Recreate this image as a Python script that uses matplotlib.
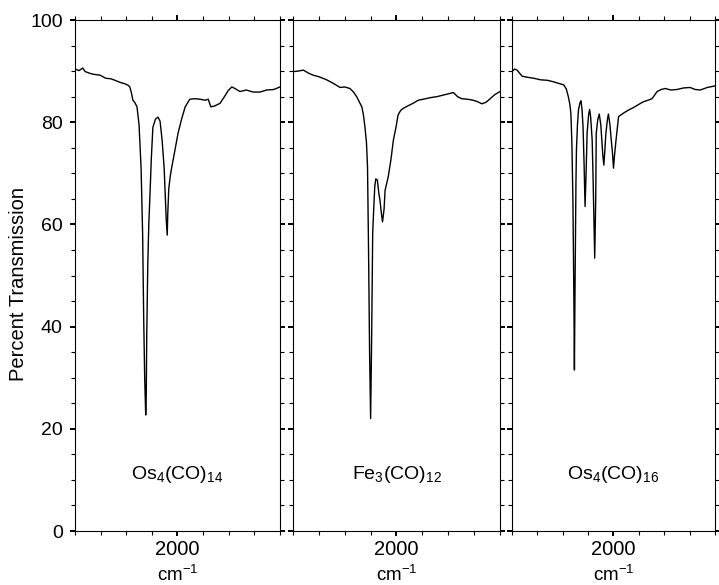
import matplotlib.pyplot as plt
import matplotlib.ticker as mticker

plt.rcParams.update({
    "font.family": ["Liberation Sans", "DejaVu Sans"],
    "mathtext.default": "regular",
    "axes.linewidth": 0.8,
})

# ── data (wavenumber cm-1, % transmission) ───────────────────────────────────
os14_wn = [2200, 2192, 2185, 2180, 2172, 2165, 2151, 2140, 2130, 2122, 2112, 2102,
           2096, 2093, 2090, 2087, 2083, 2079, 2075, 2071, 2068, 2066, 2064, 2062,
           2061, 2060, 2058, 2056, 2054, 2051, 2048, 2043, 2038, 2034, 2030, 2026,
           2024, 2022, 2020, 2019, 2017, 2014, 2011, 2005, 1999, 1992, 1985, 1976,
           1966, 1956, 1946, 1940, 1935, 1927, 1917, 1909, 1901, 1894, 1888, 1878,
           1866, 1852, 1839, 1826, 1812, 1800]
os14_t = [90.4, 90.1, 90.6, 89.9, 89.6, 89.4, 89.2, 88.6, 88.5, 88.2, 87.8, 87.5,
          87.2, 86.9, 85.8, 84.3, 83.8, 83.0, 79.5, 71.0, 58.0, 42.0, 30.0, 22.7,
          26.0, 38.0, 52.0, 60.0, 65.0, 73.0, 79.0, 80.6, 81.0, 80.2, 76.5, 71.0,
          66.0, 61.0, 57.9, 62.0, 67.0, 69.5, 71.3, 74.5, 77.8, 80.6, 83.0, 84.5,
          84.6, 84.5, 84.3, 84.5, 83.0, 83.2, 83.7, 84.9, 86.2, 86.9, 86.6, 86.0,
          86.3, 85.9, 85.9, 86.3, 86.4, 86.9]

fe_wn = [2200, 2190, 2180, 2170, 2161, 2150, 2135, 2122, 2109, 2100, 2090, 2083,
         2077, 2072, 2067, 2064, 2061, 2058, 2056, 2054, 2052, 2050, 2048, 2046,
         2044, 2042, 2040, 2037, 2034, 2032, 2029, 2027, 2024, 2022, 2019, 2016,
         2011, 2006, 2001, 1997, 1992, 1987, 1978, 1968, 1958, 1948, 1935, 1922,
         1906, 1890, 1882, 1874, 1863, 1852, 1843, 1835, 1827, 1819, 1810, 1800]
fe_t = [89.9, 90.0, 90.2, 89.6, 89.2, 88.9, 88.3, 87.6, 86.8, 86.9, 86.6, 85.9,
        85.0, 84.0, 83.0, 81.5, 79.1, 76.0, 71.3, 55.0, 35.0, 22.0, 38.0, 58.3,
        63.0, 67.4, 68.9, 68.7, 66.0, 64.8, 62.0, 60.5, 63.0, 66.7, 68.0, 69.3,
        72.5, 76.5, 79.0, 81.4, 82.3, 82.7, 83.2, 83.7, 84.3, 84.5, 84.8, 85.0,
        85.4, 85.8, 85.0, 84.6, 84.5, 84.3, 84.0, 83.6, 83.9, 84.6, 85.4, 86.0]

os16_wn = [2200, 2195, 2190, 2180, 2170, 2157, 2144, 2130, 2118, 2108, 2098, 2093,
           2089, 2086, 2084, 2082, 2080, 2078, 2077, 2076, 2074, 2073, 2071, 2069,
           2066, 2064, 2062, 2060, 2058, 2056, 2054, 2052, 2049, 2047, 2045, 2042,
           2040, 2037, 2035, 2034, 2031, 2028, 2025, 2023, 2021, 2019, 2017, 2015,
           2012, 2010, 2007, 2005, 2002, 2000, 1998, 1995, 1990, 1980, 1970, 1960,
           1950, 1941, 1932, 1924, 1914, 1906, 1898, 1887, 1875, 1862, 1849, 1839,
           1829, 1815, 1800]
os16_t = [89.9, 90.4, 90.2, 89.0, 88.8, 88.6, 88.3, 88.2, 87.9, 87.6, 87.3, 86.5,
          85.0, 83.5, 81.8, 76.0, 65.0, 45.0, 31.5, 45.0, 68.0, 74.6, 79.5, 82.4,
          83.8, 84.2, 82.5, 79.1, 72.0, 63.5, 70.0, 77.8, 81.5, 82.5, 81.0, 76.5,
          68.0, 53.4, 65.0, 77.8, 80.5, 81.6, 79.5, 76.5, 73.5, 71.6, 74.5, 77.8,
          80.5, 81.6, 79.5, 77.2, 74.0, 71.0, 73.5, 76.5, 81.1, 81.8, 82.4, 82.9,
          83.5, 84.0, 84.3, 84.6, 86.0, 86.4, 86.6, 86.3, 86.4, 86.7, 86.8, 86.4,
          86.3, 86.8, 87.1]

spectra = [
    (os14_wn, os14_t, r"Os$_4$(CO)$_{14}$"),
    (fe_wn, fe_t, r"Fe$_3$(CO)$_{12}$"),
    (os16_wn, os16_t, r"Os$_4$(CO)$_{16}$"),
]

# ── figure ────────────────────────────────────────────────────────────────────
fig = plt.figure(figsize=(7.19, 5.85), dpi=100)
lefts = [0.1043, 0.4075, 0.7121]
widths = [0.2851, 0.2879, 0.2823]
bottom, height = 0.0923, 0.8735

for i, (wn, t, name) in enumerate(spectra):
    ax = fig.add_axes([lefts[i], bottom, widths[i], height])
    ax.plot(wn, t, color="black", linewidth=1.0)
    ax.set_xlim(2200, 1800)
    ax.set_ylim(0, 100)

    ax.xaxis.set_major_locator(mticker.FixedLocator([2000]))
    ax.xaxis.set_minor_locator(mticker.MultipleLocator(50))
    ax.yaxis.set_major_locator(mticker.MultipleLocator(20))
    ax.yaxis.set_minor_locator(mticker.MultipleLocator(5))
    ax.tick_params(which="both", direction="out", top=True, right=True, width=0.8)
    ax.tick_params(which="major", length=3.8, width=1.4)
    ax.tick_params(which="minor", length=3)
    ax.tick_params(axis="x", labelsize=14.5, pad=3)
    ax.tick_params(axis="y", labelsize=14, pad=5)
    if i > 0:
        ax.tick_params(labelleft=False)

    ax.set_xlabel("cm$^{-1}$", fontsize=13.5)
    ax.xaxis.set_label_coords(0.5, -0.066)
    ax.text(2000, 11, name, ha="center", va="center", fontsize=14)

fig.text(18.5 / 719, 301.5 / 585, "Percent Transmission", rotation=90,
         ha="center", va="center", fontsize=14.5)

fig.savefig("out.png", dpi=100)
